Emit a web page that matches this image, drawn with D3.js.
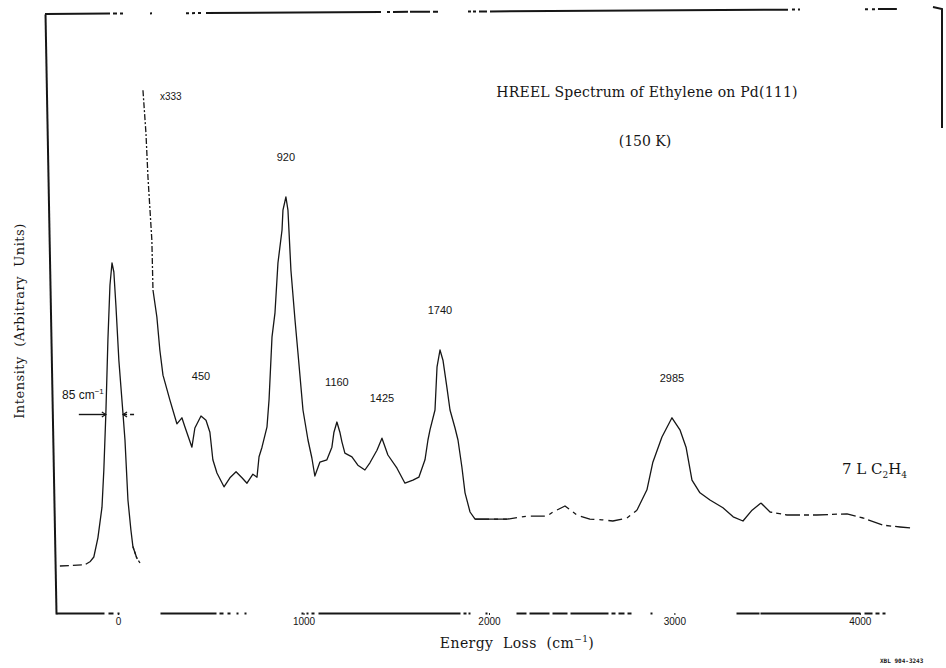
<!DOCTYPE html>
<html>
<head>
<meta charset="utf-8">
<script src="https://cdn.jsdelivr.net/npm/d3@7"></script>
<style>
  body { margin: 0; background: #fff; }
  svg { display: block; }
  text { fill: #151515; }
</style>
</head>
<body>
<svg id="chart"></svg>
<script>
// Elastic (x1) peak, energy loss in cm-1 and intensity in arbitrary units
var elasticEnergy = [-314, -179, -152, -131, -109, -87, -77, -66, -55, -44, -33, -23, -12, 4, 26, 37, 53, 69, 80, 101, 118];
var elasticIntensity = [8, 8.2, 8.7, 9.5, 12.7, 17.8, 24, 33.5, 45.7, 54.8, 58.5, 57, 51.5, 42.3, 33.5, 29, 19, 14, 11.2, 9.3, 8.5];

// Loss spectrum (x333)
var lossEnergy = [134, 150, 161, 182, 188, 209, 225, 242, 279, 317, 344, 360, 398, 414, 447, 474, 495, 511, 533, 571,
    603, 636, 668, 695, 727, 749, 760, 776, 803, 814, 830, 846, 862, 884, 889, 905, 916, 932, 954, 970,
    997, 1024, 1045, 1061, 1088, 1126, 1153, 1164, 1180, 1196, 1207, 1223, 1261, 1293, 1331, 1358, 1396, 1423, 1455, 1504,
    1547, 1590, 1622, 1655, 1671, 1682, 1709, 1720, 1736, 1752, 1773, 1790, 1817, 1833, 1854, 1871, 1898, 1925, 2097, 2205,
    2313, 2345, 2410, 2474, 2544, 2609, 2668, 2744, 2798, 2852, 2884, 2933, 2987, 3030, 3063, 3095, 3138, 3192, 3262, 3317,
    3370, 3419, 3467, 3516, 3607, 3769, 3931, 4018, 4126, 4217, 4287];
var lossIntensity = [87.3, 80.2, 72.8, 62.3, 54, 49.5, 44, 39.8, 35.7, 31.7, 32.7, 31.2, 27.8, 31, 33, 32.3, 30.3, 25.7, 23.5, 21.2,
    22.7, 23.7, 22.7, 21.8, 23.3, 22.8, 26.2, 27.8, 31.2, 35.7, 46.2, 50.2, 58.5, 64, 67.3, 69.5, 67.3, 57.3, 49, 43.5,
    34, 29, 26, 23, 25.3, 25.7, 27.8, 30.3, 32, 30.3, 28.7, 26.8, 26.2, 24.8, 24, 25.2, 27.3, 29.3, 26.5, 24.3,
    21.8, 22.3, 22.8, 25.7, 29, 30.7, 34, 41.2, 44, 42.3, 37.8, 34, 31, 29, 24.5, 20.2, 17, 15.8, 15.8, 16.3,
    16.3, 17, 18, 16.5, 15.8, 15.7, 15.5, 16, 17.3, 20.7, 25.3, 29.5, 32.7, 30.7, 27.8, 22.3, 20.2, 19, 17.7, 16.2,
    15.5, 17.3, 18.5, 17, 16.5, 16.5, 16.7, 16, 14.8, 14.5, 14.3];

var peakLabels = ["450", "920", "1160", "1425", "1740", "2985"];
var peakValues = [450, 920, 1160, 1425, 1740, 2985];
var tickValues = [0, 1000, 2000, 3000, 4000];
var tickLabels = ["0", "1000", "2000", "3000", "4000"];
var resolutionLabel = "85 cm";
var scaleLabel = "x333";

var w = 946;
var h = 668;

var svg = d3.select("#chart").attr("width", w).attr("height", h);

var x = d3.scaleLinear().domain([-335, 4260]).range([56, 908]);
var y = d3.scaleLinear().domain([0, 100]).range([614, 14]);

var ink = "#161616";
var serif = "'DejaVu Serif', 'Liberation Serif', serif";
var narrow = "'Liberation Sans Narrow', 'Liberation Sans', sans-serif";

var line = d3.line()
    .x(function(d) { return x(d[0]); })
    .y(function(d) { return y(d[1]); });

// Pick the points of a series between two energies, keeping the one
// just before so that consecutive pieces join up.
var slice = function(E, I, from, to) {
    let inRange = function(v) { return v >= from && v <= to; };
    let out = [];
    for (let i = 0; i < E.length; i++) {
        if (inRange(E[i]) || (i + 1 < E.length && inRange(E[i + 1]))) {
            out.push([E[i], I[i]]);
        }
    }
    return out;
};

// The scanned trace breaks up in places; reproduce that with dashes.
var elasticPieces = [
    [-400, -150, "9,4"],
    [-150, 101, null],
    [101, 200, "3,2"]
];
var lossPieces = [
    [0, 190, "6,2,2,2"],
    [190, 2097, null],
    [2097, 2800, "14,5,4,5"],
    [2800, 3470, null],
    [3470, 4400, "15,4,5,4"]
];

var drawPieces = function(E, I, pieces) {
    pieces.forEach(function(p) {
        svg.append("path")
            .datum(slice(E, I, p[0], p[1]))
            .attr("d", line)
            .attr("fill", "none")
            .attr("stroke", ink)
            .attr("stroke-width", 1.3)
            .attr("stroke-linejoin", "round")
            .attr("stroke-dasharray", p[2]);
    });
};

drawPieces(elasticEnergy, elasticIntensity, elasticPieces);
drawPieces(lossEnergy, lossIntensity, lossPieces);

// Frame: left axis (slightly skewed, as in the scan), bottom axis, top rule
var left = svg.append("g")
    .attr("transform", "translate(" + x.range()[0] + "," + y.range()[0] + ") skewX(1.05)")
    .append("g")
    .attr("transform", "translate(0," + (-y.range()[0]) + ")")
    .call(d3.axisLeft(y).tickValues([]).tickSizeOuter(0));
left.select(".domain").attr("stroke", ink).attr("stroke-width", 2);

var bottom = svg.append("g")
    .attr("transform", "translate(0," + (y.range()[0] - 1) + ")")
    .call(d3.axisBottom(x)
        .tickValues(tickValues)
        .tickFormat(function(d, i) { return tickLabels[i]; })
        .tickSize(2)
        .tickSizeOuter(0));
bottom.select(".domain")
    .attr("stroke", ink)
    .attr("stroke-width", 2)
    .attr("stroke-dasharray", "48,4,5,4,2,41,56,3,4,4,3,6,2,6,2,55,2,3,2,3,3,4,142,3,3,2,2,15,2,29,10,3,20,3,15,3,38,3,4,3,6,3,4,19,2,84,23,1,100,4,8,3,4,3,3");
bottom.selectAll(".tick line").attr("stroke", ink);
bottom.selectAll(".tick text")
    .attr("fill", ink)
    .style("font-family", narrow)
    .style("font-size", "10px");

var topLeft = x.range()[0] - 11;
svg.append("path")
    .attr("d", "M" + topLeft + "," + y(100) + "L" + x(4200) + "," + (y(100) - 5))
    .attr("stroke", ink)
    .attr("stroke-width", 2)
    .attr("fill", "none")
    .attr("stroke-dasharray", "65,3,4,3,3,27,2,34,3,3,3,3,3,5,175,6,3,3,15,2,20,3,5,30,3,2,3,3,8,3,298,4,3,3,2");

// Fragment of the outer box on the right edge
svg.append("path")
    .attr("d", "M933,7L942,9L942,128")
    .attr("stroke", ink)
    .attr("stroke-width", 2)
    .attr("fill", "none");

// Peak labels, placed over the local maximum of the trace
peakValues.forEach(function(v, i) {
    let best = null;
    lossEnergy.forEach(function(e, j) {
        if (Math.abs(e - v) < 70 && (best === null || lossIntensity[j] > lossIntensity[best])) {
            best = j;
        }
    });
    svg.append("text")
        .attr("x", x(lossEnergy[best]))
        .attr("y", y(lossIntensity[best]) - 36)
        .attr("text-anchor", "middle")
        .style("font-family", narrow)
        .style("font-size", "11px")
        .text(peakLabels[i]);
});

svg.append("text")
    .attr("x", x(lossEnergy[0]) + 17)
    .attr("y", y(lossIntensity[0]) + 10)
    .style("font-family", narrow)
    .style("font-size", "10px")
    .text(scaleLabel);

// Resolution marker at half height of the elastic peak
var baseLevel = elasticIntensity[0];
var peakLevel = d3.max(elasticIntensity);
var half = baseLevel + (peakLevel - baseLevel) / 2;
var crossings = [];
for (let i = 1; i < elasticEnergy.length; i++) {
    let a = elasticIntensity[i - 1], b = elasticIntensity[i];
    if ((a - half) * (b - half) <= 0 && a !== b) {
        let t = (half - a) / (b - a);
        crossings.push(elasticEnergy[i - 1] + t * (elasticEnergy[i] - elasticEnergy[i - 1]));
    }
}
var xl = x(crossings[0]), xr = x(crossings[crossings.length - 1]), yh = y(half);
svg.append("line")
    .attr("x1", xl - 27).attr("x2", xl).attr("y1", yh).attr("y2", yh)
    .attr("stroke", ink).attr("stroke-width", 1.4);
svg.append("line")
    .attr("x1", xr).attr("x2", xr + 12).attr("y1", yh).attr("y2", yh)
    .attr("stroke", ink).attr("stroke-width", 1.4)
    .attr("stroke-dasharray", "4,3");
[xl, xr].forEach(function(px, k) {
    let s = k === 0 ? -1 : 1;
    svg.append("path")
        .attr("d", "M" + (px + s * 4) + "," + (yh - 2.5) + "L" + px + "," + yh + "L" + (px + s * 4) + "," + (yh + 2.5))
        .attr("stroke", ink).attr("fill", "none").attr("stroke-width", 1.2);
});
var res = svg.append("text")
    .attr("x", xl - 2)
    .attr("y", yh - 16)
    .attr("text-anchor", "end")
    .style("font-family", narrow)
    .style("font-size", "12px")
    .text(resolutionLabel);
res.append("tspan").attr("dy", -5).style("font-size", "8px").text("−1");

// Titles and axis labels
svg.append("text")
    .attr("x", 647).attr("y", 97)
    .attr("text-anchor", "middle")
    .style("font-family", serif)
    .style("font-size", "14px")
    .style("letter-spacing", "0.2px")
    .text("HREEL Spectrum of Ethylene on Pd(111)");

svg.append("text")
    .attr("x", 645).attr("y", 146)
    .attr("text-anchor", "middle")
    .style("font-family", serif)
    .style("font-size", "14px")
    .text("(150 K)");

var xl2 = svg.append("text")
    .attr("x", 517).attr("y", 648)
    .attr("text-anchor", "middle")
    .style("font-family", serif)
    .style("font-size", "14px")
    .style("letter-spacing", "0.4px")
    .attr("xml:space", "preserve")
    .text("Energy  Loss  (cm");
xl2.append("tspan").attr("dy", -6).style("font-size", "9px").text("−1");
xl2.append("tspan").attr("dy", 6).text(")");

svg.append("text")
    .attr("transform", "translate(24,321) rotate(-90)")
    .attr("text-anchor", "middle")
    .style("font-family", serif)
    .style("font-size", "13px")
    .style("letter-spacing", "0.5px")
    .attr("xml:space", "preserve")
    .text("Intensity  (Arbitrary  Units)");

var dose = svg.append("text")
    .attr("x", 842).attr("y", 474)
    .style("font-family", serif)
    .style("font-size", "15px")
    .text("7 L C");
dose.append("tspan").attr("dy", 4).style("font-size", "9px").text("2");
dose.append("tspan").attr("dy", -4).text("H");
dose.append("tspan").attr("dy", 4).style("font-size", "9px").text("4");

svg.append("text")
    .attr("x", 880).attr("y", 663)
    .style("font-family", "'DejaVu Sans Mono', monospace")
    .style("font-size", "6px")
    .style("font-weight", "bold")
    .text("XBL 904-3243");
</script>
</body>
</html>
